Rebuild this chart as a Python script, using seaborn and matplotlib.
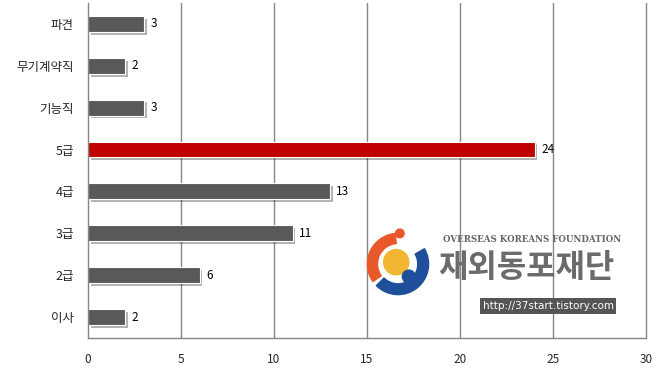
import numpy as np
import pandas as pd
import seaborn as sns
import matplotlib.pyplot as plt
import matplotlib.patheffects as pe
from matplotlib.patches import Wedge, Circle

# data
categories = ["파견", "무기계약직", "기능직", "5급", "4급", "3급", "2급", "이사"]
values = [3, 2, 3, 24, 13, 11, 6, 2]
highlight = "5급"
x_ticks = [0, 5, 10, 15, 20, 25, 30]

sns.set_style("white")
plt.rcParams["font.family"] = ["Noto Sans CJK KR", "DejaVu Sans"]

df = pd.DataFrame({"category": categories, "value": values})
palette = {c: ("#C00000" if c == highlight else "#595959") for c in categories}

fig = plt.figure(figsize=(6.56, 3.71), dpi=100)
ax = fig.add_axes([0.134, 0.089, 0.851, 0.903])

sns.barplot(
    data=df, x="value", y="category", hue="category", palette=palette,
    legend=False, width=0.38, orient="h", ax=ax, saturation=1,
)

shadow = [pe.SimplePatchShadow(offset=(2, -2), shadow_rgbFace="#000000", alpha=0.3), pe.Normal()]
for bar in ax.patches:
    bar.set_edgecolor("white")
    bar.set_linewidth(0.8)
    bar.set_path_effects(shadow)

for i, v in enumerate(values):
    ax.text(v + 0.35, i, str(v), va="center", ha="left", fontsize=8.5, color="black")

ax.set_xlim(0, 30)
ax.set_ylim(7.5, -0.5)
ax.set_xticks(x_ticks)
ax.set_xlabel("")
ax.set_ylabel("")
ax.tick_params(axis="x", length=4, color="#868686", labelsize=8.5, pad=7)
ax.tick_params(axis="y", which="major", length=0, labelsize=9, pad=10)
ax.set_yticks(np.arange(-0.5, 8.0, 1.0), minor=True)
ax.tick_params(axis="y", which="minor", length=4, color="#868686")
for x in x_ticks[1:]:
    ax.axvline(x, color="#868686", lw=1, zorder=0, clip_on=False)
for s in ["top", "right"]:
    ax.spines[s].set_visible(False)
for s in ["left", "bottom"]:
    ax.spines[s].set_color("#868686")
    ax.spines[s].set_linewidth(1)

# watermark logo
def fw(px):
    return px / 656
def fh(px):
    return px / 371
lax = fig.add_axes([fw(362), 1 - fh(300), fw(72), fh(72)])
lax.set_xlim(-1, 1)
lax.set_ylim(-1, 1)
lax.set_aspect("equal")
lax.axis("off")
lax.add_patch(Wedge((0, 0), 0.85, 95, 215, width=0.28, color="#E8582A"))
lax.add_patch(Wedge((0, 0), 0.85, 225, 30, width=0.3, color="#1F4E9A"))
lax.add_patch(Circle((-0.05, 0.05), 0.35, color="#F2B632"))
lax.add_patch(Circle((0.3, -0.35), 0.18, color="#1F4E9A"))
lax.add_patch(Circle((0.05, 0.85), 0.12, color="#E8582A"))

fig.text(fw(443), 1 - fh(240), "OVERSEAS KOREANS FOUNDATION", family="DejaVu Serif",
         fontsize=6.2, color="#666666", va="center", ha="left", fontweight="bold")
fig.text(fw(438), 1 - fh(268), "재외동포재단", fontsize=23, color="#6b6b6b",
         va="center", ha="left", fontweight="bold")
fig.text(fw(548), 1 - fh(306), "http://37start.tistory.com", family="DejaVu Sans",
         fontsize=7.5, color="white", va="center", ha="center",
         bbox=dict(boxstyle="square,pad=0.25", fc="#555555", ec="none"))

fig.savefig("out.png", dpi=100, facecolor="white")
